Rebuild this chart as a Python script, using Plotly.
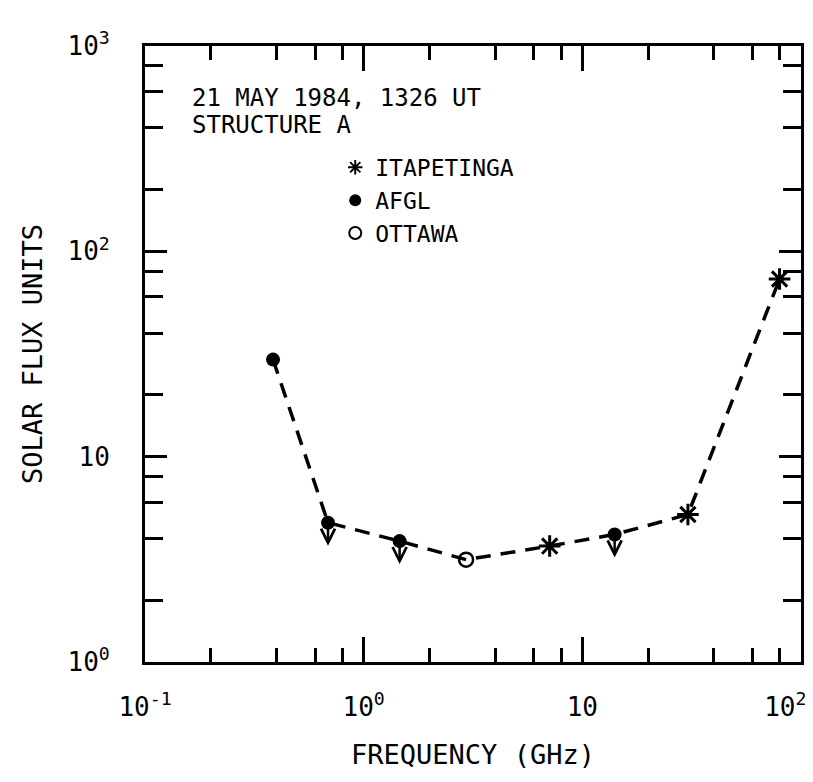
import math
import plotly.graph_objects as go

# --- data ---
itap_freq = [7.09, 30.4, 79.8]
itap_flux = [3.67, 5.23, 73.3]
afgl_freq = [0.385, 0.687, 1.46, 14.05]
afgl_flux = [29.7, 4.77, 3.88, 4.18]
ottawa_freq = [2.94]
ottawa_flux = [3.15]
# spectrum (dashed curve) through all points, ordered by frequency
curve_freq = [0.385, 0.687, 1.46, 2.94, 7.09, 14.05, 30.4, 79.8]
curve_flux = [29.7, 4.77, 3.88, 3.15, 3.67, 4.18, 5.23, 73.3]
# AFGL points that are upper limits
limit_freq = [0.687, 1.46, 14.05]
limit_flux = [4.77, 3.88, 4.18]

x_tickvals = [0.1, 1, 10, 100]
x_ticktext = ["10<sup>-1</sup>", "10<sup>0</sup>", "10", "10<sup>2</sup>\u00a0\u00a0"]
y_tickvals = [1, 10, 100, 1000]
y_ticktext = ["10<sup>0</sup>", "10", "10<sup>2</sup>", "10<sup>3</sup>"]
x_minor = [m * d for d in (0.1, 1, 10) for m in (2, 4, 6, 8)]
y_minor = [m * d for d in (1, 10, 100) for m in (2, 4, 6, 8)]

FONT = "DejaVu Sans Mono"

fig = go.Figure()
fig.add_trace(go.Scatter(x=curve_freq, y=curve_flux, mode="lines",
                         line=dict(color="black", width=3.5, dash="15px,10px"),
                         showlegend=False, hoverinfo="skip"))
fig.add_trace(go.Scatter(x=itap_freq, y=itap_flux, mode="markers", name="ITAPETINGA",
                         marker=dict(symbol="asterisk-open", size=18, color="black",
                                     line=dict(color="black", width=3))))
fig.add_trace(go.Scatter(x=afgl_freq, y=afgl_flux, mode="markers", name="AFGL",
                         marker=dict(symbol="circle", size=14, color="black")))
fig.add_trace(go.Scatter(x=ottawa_freq, y=ottawa_flux, mode="markers", name="OTTAWA",
                         marker=dict(symbol="circle-open", size=14, color="black",
                                     line=dict(color="black", width=2.5))))

# down arrows (upper limits) under the AFGL points; annotation positions on log
# axes are given in log10 units
for fx, fy in zip(limit_freq, limit_flux):
    fig.add_annotation(x=math.log10(fx), y=math.log10(fy), xref="x", yref="y",
                       text="", showarrow=True,
                       axref="pixel", ayref="pixel", ax=0, ay=-20, yshift=-23,
                       arrowhead=5, arrowsize=1.1, arrowwidth=2.5, arrowcolor="black")

fig.add_annotation(xref="paper", yref="paper", x=0.068, y=0.915, xanchor="left",
                   yanchor="middle", showarrow=False, text="21 MAY 1984, 1326 UT",
                   font=dict(family=FONT, size=24, color="black"))
fig.add_annotation(xref="paper", yref="paper", x=0.068, y=0.872, xanchor="left",
                   yanchor="middle", showarrow=False, text="STRUCTURE A",
                   font=dict(family=FONT, size=24, color="black"))

axis_common = dict(type="log", showgrid=False, zeroline=False, showline=True,
                   linecolor="black", linewidth=3, mirror="ticks", ticks="inside",
                   tickcolor="black", tickwidth=2.5, tickmode="array",
                   ticklabeloverflow="allow",
                   tickfont=dict(family=FONT, size=26, color="black"))

fig.update_xaxes(**axis_common, range=[-1, 2], tickvals=x_tickvals, ticktext=x_ticktext,
                 ticklen=25, ticklabelstandoff=20,
                 minor=dict(tickmode="array", tickvals=x_minor, ticks="inside",
                            ticklen=14, tickwidth=2.5, tickcolor="black"),
                 title=dict(text="FREQUENCY (GHz)", font=dict(family=FONT, size=27, color="black"),
                            standoff=24))
fig.update_yaxes(**axis_common, range=[0, 3], tickvals=y_tickvals, ticktext=y_ticktext,
                 ticklen=22, ticklabelstandoff=27,
                 minor=dict(tickmode="array", tickvals=y_minor, ticks="inside",
                            ticklen=18, tickwidth=2.5, tickcolor="black"),
                 title=dict(text="SOLAR FLUX UNITS", font=dict(family=FONT, size=27, color="black"),
                            standoff=18))

fig.update_layout(width=813, height=782, plot_bgcolor="white", paper_bgcolor="white",
                  margin=dict(l=137, r=20, t=38, b=128, autoexpand=False),
                  font=dict(family=FONT, color="black"),
                  legend=dict(x=0.29, y=0.838, xanchor="left", yanchor="top",
                              bgcolor="rgba(0,0,0,0)", font=dict(family=FONT, size=23, color="black"),
                              itemsizing="constant", tracegroupgap=0),
                  showlegend=True)

fig.write_html("out.html")
